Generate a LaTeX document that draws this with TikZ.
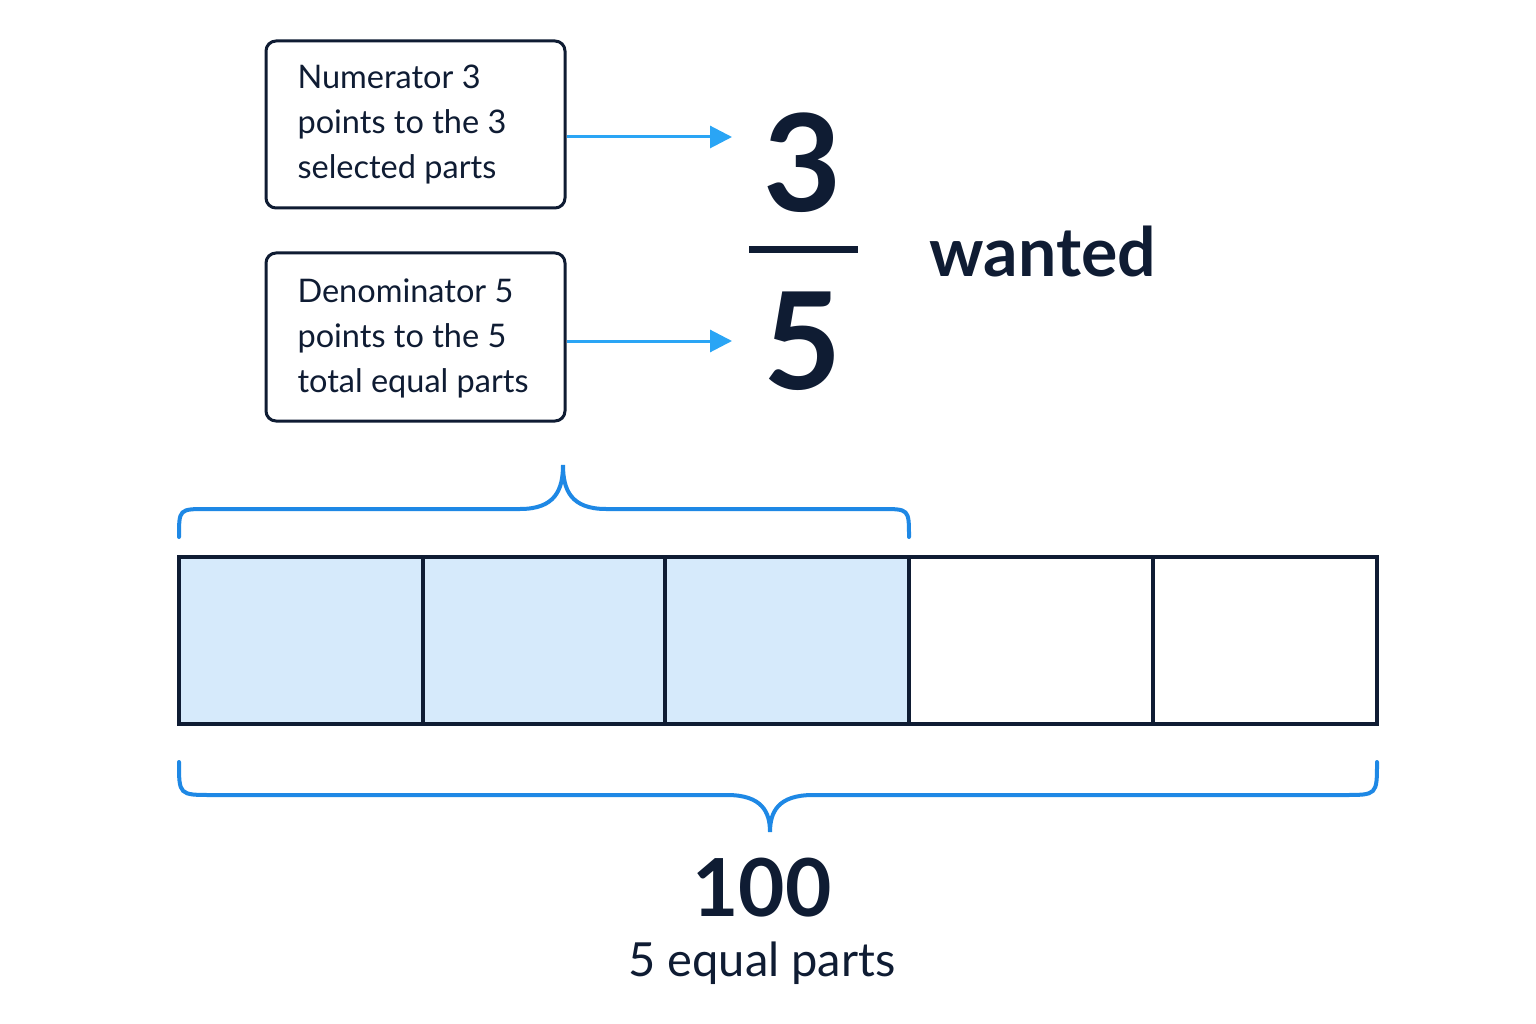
\documentclass[tikz,border=0pt]{standalone}
\usepackage{fontspec}
\setmainfont{Lato}
\usetikzlibrary{arrows.meta}
\definecolor{ink}{HTML}{0F1C33}
\definecolor{arr}{HTML}{2AA5F5}
\definecolor{brc}{HTML}{1E88E5}
\definecolor{sel}{HTML}{D6EAFB}
\tikzset{
 callout/.style={draw=ink,line width=3pt,rounded corners=10pt},
 pointer/.style={draw=arr,line width=3pt,-{Triangle[length=22pt,width=22pt]}},
 brace/.style={draw=brc,line width=4pt,line cap=round},
 cell/.style={draw=ink,line width=4pt},
 lbl/.style={text=ink,font=\fontsize{32.5}{45}\selectfont,align=left,anchor=west},
}
\begin{document}
\begin{tikzpicture}[x=1pt,y=-1pt]
\useasboundingbox (0,0) rectangle (1536,1024);
\fill[white] (0,0) rectangle (1536,1024);
\draw[callout] (266,41) rectangle (565,208);
\draw[callout] (266,253) rectangle (565,421);
\node[lbl] (t1) at (294,125) {Numerator 3\\points to the 3\\selected parts};
\node[lbl] (t2) at (294,338) {Denominator 5\\points to the 5\\total equal parts};
\coordinate (a1s) at (567,137); \coordinate (a1e) at (732,137);
\coordinate (a2s) at (567,341); \coordinate (a2e) at (732,341);
\draw[pointer] (a1s) -- (a1e);
\draw[pointer] (a2s) -- (a2e);
\node[text=ink,font=\fontsize{135}{135}\selectfont\bfseries] (num) at (803,163) {3};
\node[text=ink,font=\fontsize{135}{135}\selectfont\bfseries] (den) at (803,341) {5};
\draw[ink,line width=7pt] (749,250) -- (858,250);
\node[text=ink,font=\fontsize{68}{68}\selectfont\bfseries,anchor=west] (w) at (926,252) {wanted};
\fill[sel] (179,557) rectangle (909,724);
\foreach \a/\b in {179/423,423/665,665/909,909/1153,1153/1377}
  \draw[cell] (\a,557) rectangle (\b,724);
\draw[brace] (179,537) .. controls (179,509) .. (207,509) -- (520,509) .. controls (555,509) and (563,490) .. (563,465) .. controls (563,490) and (571,509) .. (606,509) -- (881,509) .. controls (909,509) .. (909,537);
\draw[brace] (179,762) .. controls (179,795) .. (212,795) -- (727,795) .. controls (762,795) and (770,812) .. (770,832) .. controls (770,812) and (778,795) .. (813,795) -- (1344,795) .. controls (1377,795) .. (1377,762);
\node[text=ink,font=\fontsize{80}{80}\selectfont\bfseries] (h) at (762,888) {100};
\node[text=ink,font=\fontsize{47}{47}\selectfont] (p) at (762,963) {5 equal parts};
\end{tikzpicture}
\end{document}
